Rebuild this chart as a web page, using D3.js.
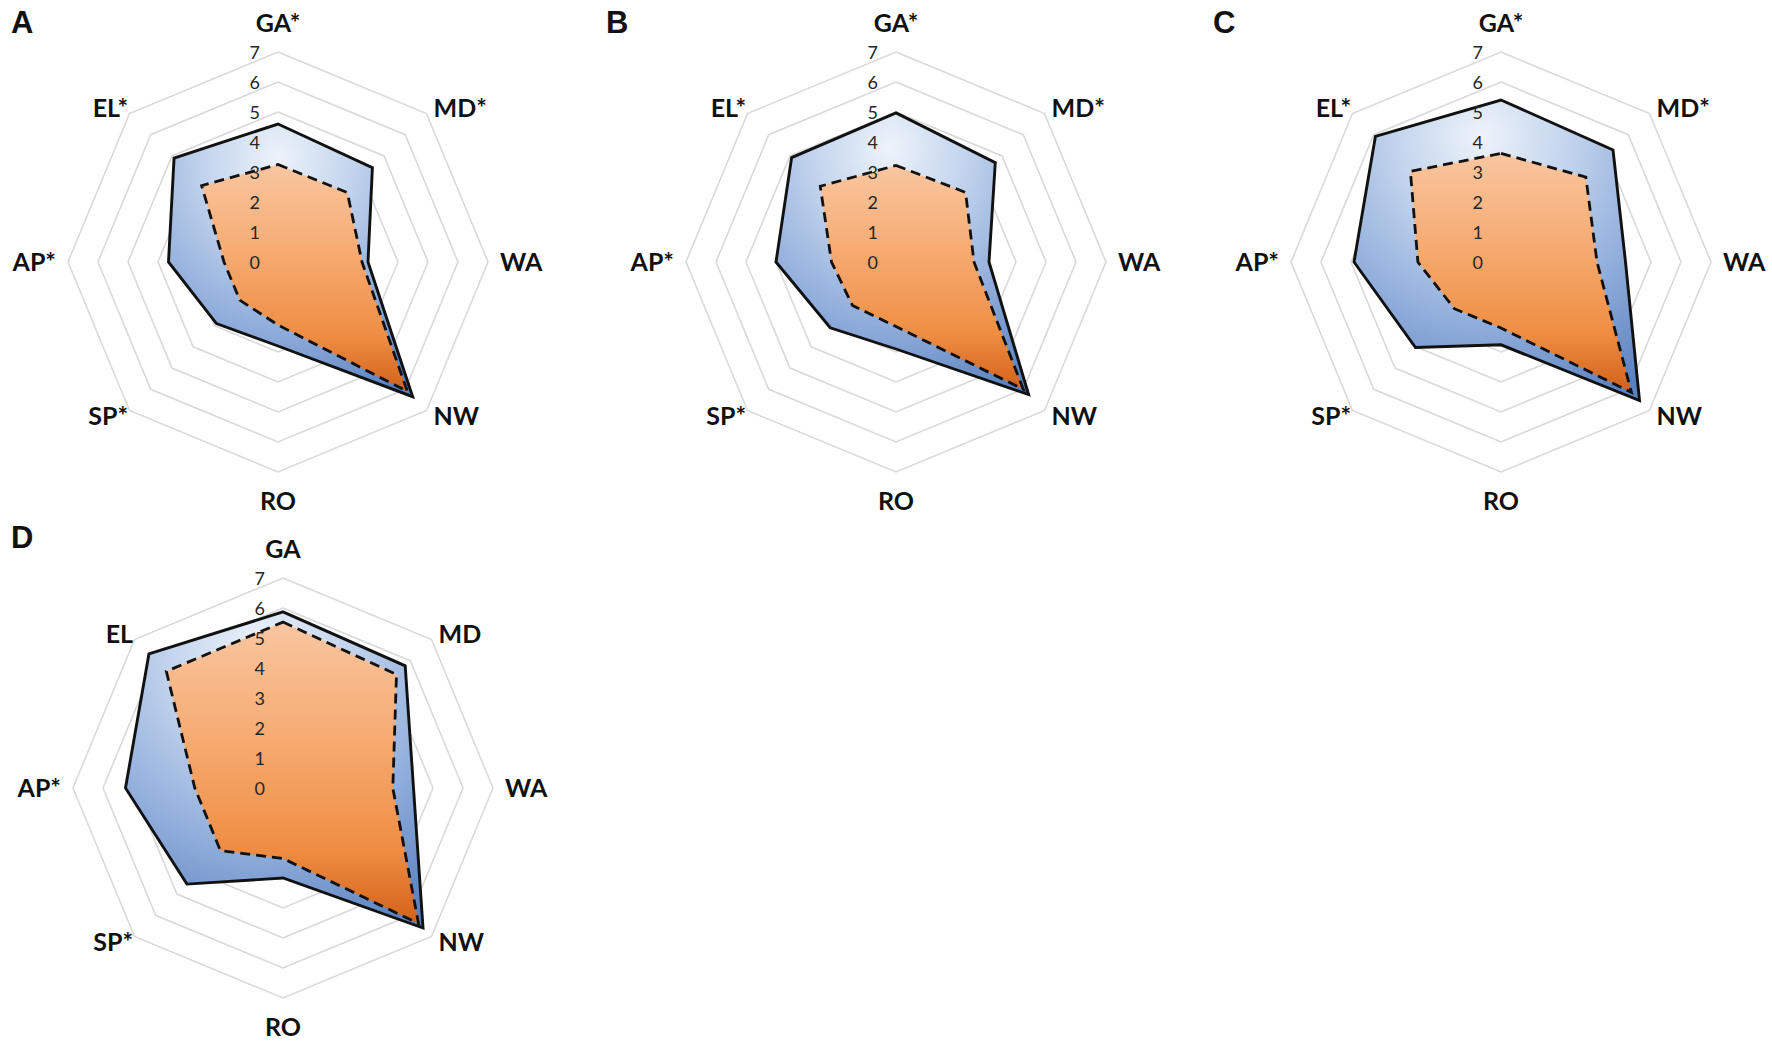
<!DOCTYPE html>
<html>
<head>
<meta charset="utf-8">
<script src="https://cdn.jsdelivr.net/npm/d3@7"></script>
<style>
  html, body { margin: 0; padding: 0; background: #ffffff; }
  svg { display: block; }
</style>
</head>
<body>
<svg id="chart" width="1772" height="1051"></svg>
<script>
// ---------------- DATA ----------------
const axisKeys = ["GA", "MD", "WA", "NW", "RO", "SP", "AP", "EL"];
const labelsABC = ["GA*", "MD*", "WA", "NW", "RO", "SP*", "AP*", "EL*"];
const labelsD   = ["GA", "MD", "WA", "NW", "RO", "SP*", "AP*", "EL"];
const tickLabels = ["0", "1", "2", "3", "4", "5", "6", "7"];
const panelLetters = ["A", "B", "C", "D"];

// solid outline (blue fill) series
const solidA = [4.60, 4.45, 3.00, 6.35, 2.80, 2.90, 3.65, 4.90];
const solidB = [4.97, 4.68, 3.10, 6.25, 2.90, 3.10, 4.00, 4.92];
const solidC = [5.40, 5.28, 4.15, 6.53, 2.76, 4.03, 4.90, 5.92];
const solidD = [5.87, 5.76, 4.35, 6.60, 3.00, 4.53, 5.25, 6.32];
// dashed outline (orange fill) series
const dashedA = [3.25, 3.27, 2.80, 6.10, 2.10, 1.80, 1.80, 3.60];
const dashedB = [3.22, 3.28, 2.60, 6.00, 2.15, 2.05, 2.15, 3.57];
const dashedC = [3.62, 4.00, 3.20, 6.15, 2.20, 2.20, 2.77, 4.27];
const dashedD = [5.53, 5.35, 3.66, 6.39, 2.35, 2.95, 2.94, 5.50];

// ---------------- LAYOUT ----------------
const panels = [
  { letter: panelLetters[0], labels: labelsABC, solid: solidA, dashed: dashedA, cx: 278,  cy: 262, lx: 11,  ly: 33 },
  { letter: panelLetters[1], labels: labelsABC, solid: solidB, dashed: dashedB, cx: 896,  cy: 262, lx: 606, ly: 33 },
  { letter: panelLetters[2], labels: labelsABC, solid: solidC, dashed: dashedC, cx: 1501, cy: 262, lx: 1213, ly: 33 },
  { letter: panelLetters[3], labels: labelsD,   solid: solidD, dashed: dashedD, cx: 283,  cy: 788, lx: 11,  ly: 548 }
];

const svg = d3.select("#chart");
const defs = svg.append("defs");

const blueGrad = defs.append("radialGradient")
  .attr("id", "blueGrad")
  .attr("cx", 0.45).attr("cy", 0.14).attr("r", 0.95)
  .attr("fx", 0.45).attr("fy", 0.12);
[[0, "#eef3fa"], [0.3, "#c5d6ee"], [0.65, "#90addb"], [1, "#5b82c0"]]
  .forEach(([o, c]) => blueGrad.append("stop").attr("offset", o).attr("stop-color", c));

const orangeGrad = defs.append("linearGradient")
  .attr("id", "orangeGrad")
  .attr("x1", 0).attr("y1", 0).attr("x2", 0).attr("y2", 1);
[[0, "#f9c6a0"], [0.4, "#f6aa70"], [0.75, "#ef8e43"], [1, "#d3611a"]]
  .forEach(([o, c]) => orangeGrad.append("stop").attr("offset", o).attr("stop-color", c));

const rScale = d3.scaleLinear().domain([0, 7]).range([0, 210]);
const angle = d3.scalePoint().domain(axisKeys.concat(["_end"])).range([0, 2 * Math.PI]);

const radial = d3.lineRadial()
  .angle((d, i) => angle(axisKeys[i]))
  .radius(d => rScale(d))
  .curve(d3.curveLinearClosed);

const labelFont = "Lato, 'Open Sans', 'DejaVu Sans', sans-serif";

panels.forEach(p => {
  const g = svg.append("g").attr("transform", `translate(${p.cx},${p.cy})`);

  // grid rings 1..7
  const ringVals = d3.range(1, 8);
  g.selectAll("path.ring").data(ringVals).enter().append("path")
    .attr("class", "ring")
    .attr("d", v => radial(axisKeys.map(() => v)))
    .attr("fill", "none")
    .attr("stroke", "#d9d9d9")
    .attr("stroke-width", 1.6);

  // blue (solid) series
  g.append("path")
    .attr("d", radial(p.solid))
    .attr("fill", "url(#blueGrad)")
    .attr("stroke", "#111111")
    .attr("stroke-width", 2.9)
    .attr("stroke-linejoin", "miter");

  // orange (dashed) series
  g.append("path")
    .attr("d", radial(p.dashed))
    .attr("fill", "url(#orangeGrad)")
    .attr("stroke", "#111111")
    .attr("stroke-width", 2.8)
    .attr("stroke-dasharray", "10,6");

  // tick labels along the vertical axis
  g.selectAll("text.tick").data(tickLabels).enter().append("text")
    .attr("class", "tick")
    .attr("x", -18)
    .attr("y", d => -rScale(+d) + 6.5)
    .attr("text-anchor", "end")
    .attr("font-family", labelFont)
    .attr("font-size", 18)
    .attr("fill", "#262626")
    .text(d => d);

  // axis labels
  const capOff = 9;
  p.labels.forEach((lab, i) => {
    const a = angle(axisKeys[i]);
    const sx = Math.sin(a), sy = -Math.cos(a);
    let x, y, anchor;
    if (Math.abs(sx) < 0.01) {           // top / bottom
      x = 0; y = sy * 239; anchor = "middle";
    } else if (Math.abs(sy) < 0.01) {    // left / right
      x = sx * 222; y = 0; anchor = sx > 0 ? "start" : "end";
    } else {                              // diagonals
      x = sx * (sx > 0 ? 220 : 212); y = sy * 218; anchor = sx > 0 ? "start" : "end";
    }
    g.append("text")
      .attr("x", x)
      .attr("y", y + capOff)
      .attr("text-anchor", anchor)
      .attr("font-family", labelFont)
      .attr("font-weight", "bold")
      .attr("font-size", 25)
      .attr("fill", "#111111")
      .text(lab);
  });

  // panel letter
  svg.append("text")
    .attr("x", p.lx)
    .attr("y", p.ly)
    .attr("font-family", "'Liberation Sans', Arial, sans-serif")
    .attr("font-weight", "bold")
    .attr("font-size", 31)
    .attr("fill", "#111111")
    .text(p.letter);
});
</script>
</body>
</html>
